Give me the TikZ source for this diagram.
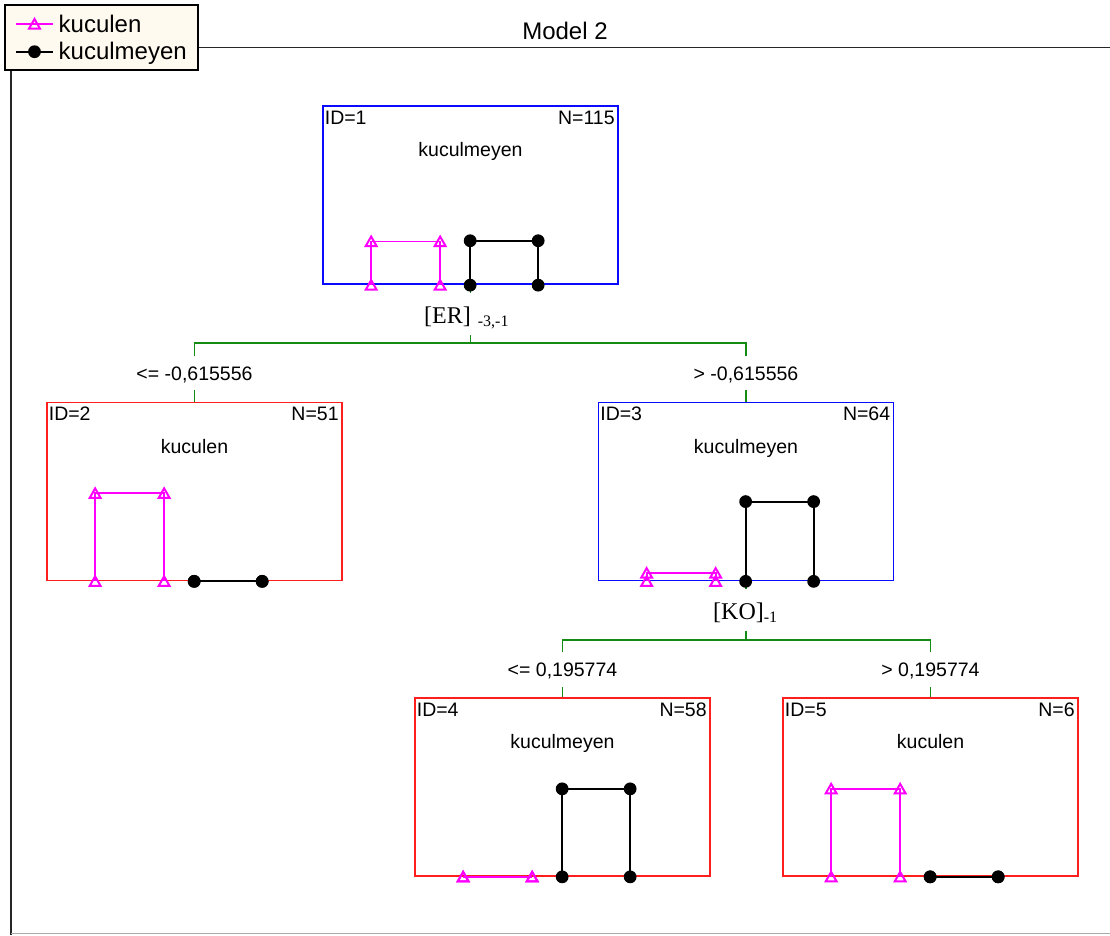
\documentclass[tikz,border=0pt]{standalone}
\usepackage{fontspec}
\setmainfont{Liberation Sans}
\newfontfamily\serifrm{Liberation Serif}
\usetikzlibrary{calc}
\definecolor{nodered}{RGB}{255,30,30}
\definecolor{nodeblue}{RGB}{10,10,255}
\definecolor{conngreen}{RGB}{20,140,20}
\definecolor{legfill}{RGB}{255,250,240}
\definecolor{framegray}{RGB}{170,170,170}
\definecolor{magbar}{RGB}{255,0,255}
\newcommand\nodefont{\fontsize{19.5}{22}\selectfont}
\newcommand\bigfont{\fontsize{24}{28}\selectfont}
\newcommand\splitfont{\serifrm\fontsize{24}{28}\selectfont}
\newcommand\subfont{\serifrm\fontsize{16}{18}\selectfont}
\tikzset{
  treebox/.style={draw, line width=1.7pt, minimum width=295pt, minimum height=178pt, inner sep=0pt},
  idlab/.style={anchor=base west, inner sep=0pt, font=\nodefont},
  nlab/.style={anchor=base east, inner sep=0pt, font=\nodefont},
  clslab/.style={anchor=base, inner sep=0pt, font=\nodefont},
  cond/.style={font=\nodefont, text height=14pt, text depth=0pt, inner xsep=2pt, inner ysep=10pt},
  conn/.style={draw=conngreen, line width=1.7pt},
  magline/.style={draw=magbar, line width=1.8pt},
  blkline/.style={draw=black, line width=1.8pt},
  frameline/.style={draw=black!85, line width=1.8pt},
  tri/.pic={\draw[magbar, line width=2pt, line join=miter] (-5.4,4.5) -- (5.4,4.5) -- (0,-5) -- cycle;},
  dot/.pic={\fill[black] (0,0) circle (6.4pt);}
}
\newcommand\barpair[3]{%
  \draw[magline] ($(#1.south west)+(49,0)$) coordinate (#1ma) -- ++(0,-#2) coordinate (#1mb)
     -- ++(69,0) coordinate (#1mc) -- ++(0,#2) coordinate (#1md);
  \draw[blkline] ($(#1.south west)+(148,0)$) coordinate (#1ka) -- ++(0,-#3) coordinate (#1kb)
     -- ++(68,0) coordinate (#1kc) -- ++(0,#3) coordinate (#1kd);
  \foreach \q in {ma,mb,mc,md} {\path (#1\q) pic {tri};}
  \foreach \q in {ka,kb,kc,kd} {\path (#1\q) pic {dot};}
}
\newcommand\treenode[7]{%
  \node[treebox, draw=#4] (#1) at (#2,#3) {};
  \node[idlab] (#1id) at ($(#1.north west)+(2.5,19)$) {ID=#5};
  \node[nlab] (#1n) at ($(#1.north east)+(-4,19)$) {N=#6};
  \node[clslab] (#1cls) at ($(#1.north)+(0,51.5)$) {#7};
}
\begin{document}
\begin{tikzpicture}[x=1pt,y=-1pt]
\useasboundingbox (0,0) rectangle (1110,935);
% frame
\draw[frameline] (198,47.5) -- (1110,47.5);
\draw[frameline] (11,70) -- (11,935);
\draw[draw=framegray, line width=1.8pt] (11,933.5) -- (1110,933.5);
% legend
\node[draw=black, line width=2.2pt, fill=legfill, minimum width=193pt, minimum height=65pt, inner sep=0pt] (leg) at (101.2,37.2) {};
\draw[magline] (16,24) -- (53,24);
\path (34.5,24) pic {tri};
\draw[blkline] (16,51.7) -- (53,51.7);
\path (34.5,51.7) pic {dot};
\node[anchor=base west, inner sep=0pt, font=\bigfont] (leg1) at (58.5,32) {kuculen};
\node[anchor=base west, inner sep=0pt, font=\bigfont] (leg2) at (58.5,59.5) {kuculmeyen};
% title
\node[anchor=base, inner sep=0pt, font=\bigfont] (title) at (565,39) {Model 2};
% tree nodes
\treenode{n1}{470.5}{195.3}{nodeblue}{1}{115}{kuculmeyen}
\treenode{n2}{194.5}{491.5}{nodered}{2}{51}{kuculen}
\treenode{n3}{746}{491.5}{nodeblue}{3}{64}{kuculmeyen}
\treenode{n4}{562.5}{787}{nodered}{4}{58}{kuculmeyen}
\treenode{n5}{930.5}{787}{nodered}{5}{6}{kuculen}
% split labels
\node[anchor=base west, inner sep=0pt] (er) at (424,323) {\splitfont[ER]\hspace{7pt}\raisebox{-3pt}{\subfont -3,-1}};
\node[anchor=base west, inner sep=0pt] (ko) at (713,619) {\splitfont[KO]\raisebox{-3pt}{\subfont -1}};
\coordinate (erout) at (470.5,335);
\coordinate (koout) at (746,631);
\node[cond] (c2) at (194.5,373) {<= -0,615556};
\node[cond] (c3) at (746,373) {> -0,615556};
\node[cond] (c4) at (562.5,669.5) {<= 0,195774};
\node[cond] (c5) at (930.5,669.5) {> 0,195774};
% connectors
\draw[conn] (n1.south) -- ++(0,8);
\draw[conn] (erout) -- ++(0,8) -| (c2.north);
\draw[conn] (erout) ++(0,8) -| (c3.north);
\draw[conn] (c2.south) -- (n2.north);
\draw[conn] (c3.south) -- (n3.north);
\draw[conn] (n3.south) -- ++(0,8);
\draw[conn] (koout) -- ++(0,9) -| (c4.north);
\draw[conn] (koout) ++(0,9) -| (c5.north);
\draw[conn] (c4.south) -- (n4.north);
\draw[conn] (c5.south) -- (n5.north);
% bar charts
\barpair{n1}{43.6}{44.4}
\barpair{n2}{88}{0}
\barpair{n3}{8.25}{79.75}
\barpair{n4}{0}{88}
\barpair{n5}{88}{0}
\end{tikzpicture}
\end{document}
